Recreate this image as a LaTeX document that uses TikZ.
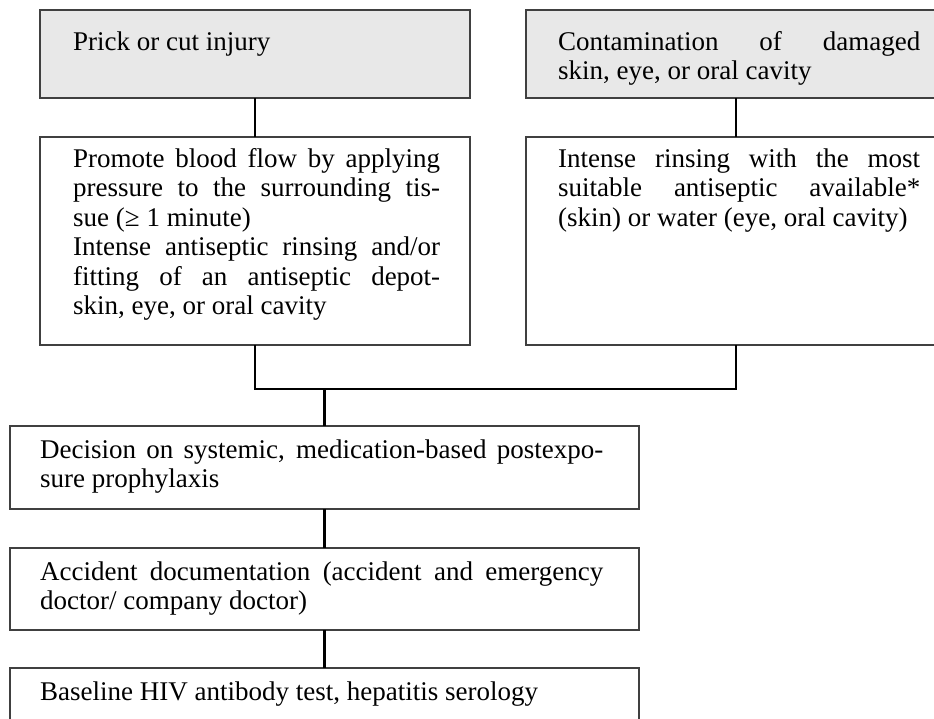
\documentclass[tikz,border=0pt]{standalone}
\usepackage{fontspec}
\setmainfont{Liberation Serif}
\newcommand\jline[1]{\makebox[\linewidth][s]{#1}}
\begin{document}
\begin{tikzpicture}[x=1pt,y=-1pt,
  frame/.style={draw=black!75, line width=1.3pt, inner sep=0pt, outer sep=0pt, anchor=north west},
  grayframe/.style={frame, fill=black!9},
  txt/.style={anchor=base west, inner sep=0pt, font=\fontsize{27}{29.5}\selectfont},
  link/.style={draw=black, line width=2.2pt}]
\useasboundingbox (0,0) rectangle (934,718);
\clip (0,0) rectangle (934,718);
\fill[white] (0,0) rectangle (934,718);
% boxes
\node[grayframe, minimum width=430pt, minimum height=88pt] (inj) at (40,10) {};
\node[grayframe, minimum width=420pt, minimum height=88pt] (con) at (526,10) {};
\node[frame, minimum width=430pt, minimum height=208pt] (pro) at (40,137) {};
\node[frame, minimum width=420pt, minimum height=208pt] (rin) at (526,137) {};
\node[frame, minimum width=629pt, minimum height=83pt] (dec) at (10,426) {};
\node[frame, minimum width=629pt, minimum height=82pt] (doc) at (10,548) {};
\node[frame, minimum width=629pt, minimum height=100pt] (hiv) at (10,668) {};
% texts
\node[txt] (tinj) at (73,50) {Prick or cut injury};
\node[txt] (tcon) at (558,50) {\parbox[t]{362pt}{\jline{Contamination of damaged}\\
skin, eye, or oral cavity}};
\node[txt] (tpro) at (73,167) {\parbox[t]{367pt}{\jline{Promote blood flow by applying}\\
\jline{pressure to the surrounding tis-}\\
sue (≥ 1 minute)\\
\jline{Intense antiseptic rinsing and/or}\\
\jline{fitting of an antiseptic depot-}\\
skin, eye, or oral cavity}};
\node[txt] (trin) at (558,167) {\parbox[t]{362pt}{\jline{Intense rinsing with the most}\\
\jline{suitable antiseptic available*}\\
(skin) or water (eye, oral cavity)}};
\node[txt] (tdec) at (40,458) {\parbox[t]{563pt}{\jline{Decision on systemic, medication-based postexpo-}\\
sure prophylaxis}};
\node[txt] (tdoc) at (40,580) {\parbox[t]{563pt}{\jline{Accident documentation (accident and emergency}\\
doctor/ company doctor)}};
\node[txt] (thiv) at (40,700) {Baseline HIV antibody test, hepatitis serology};
% connectors
\coordinate (jn) at (dec.north |- 0,389);
\draw[link] (inj.south) -- (pro.north);
\draw[link] (con.south) -- (rin.north);
\draw[link] (pro.south) |- (jn) -| (rin.south);
\draw[link] (jn) -- (dec.north);
\draw[link] (dec.south) -- (doc.north);
\draw[link] (doc.south) -- (hiv.north);
\end{tikzpicture}
\end{document}
